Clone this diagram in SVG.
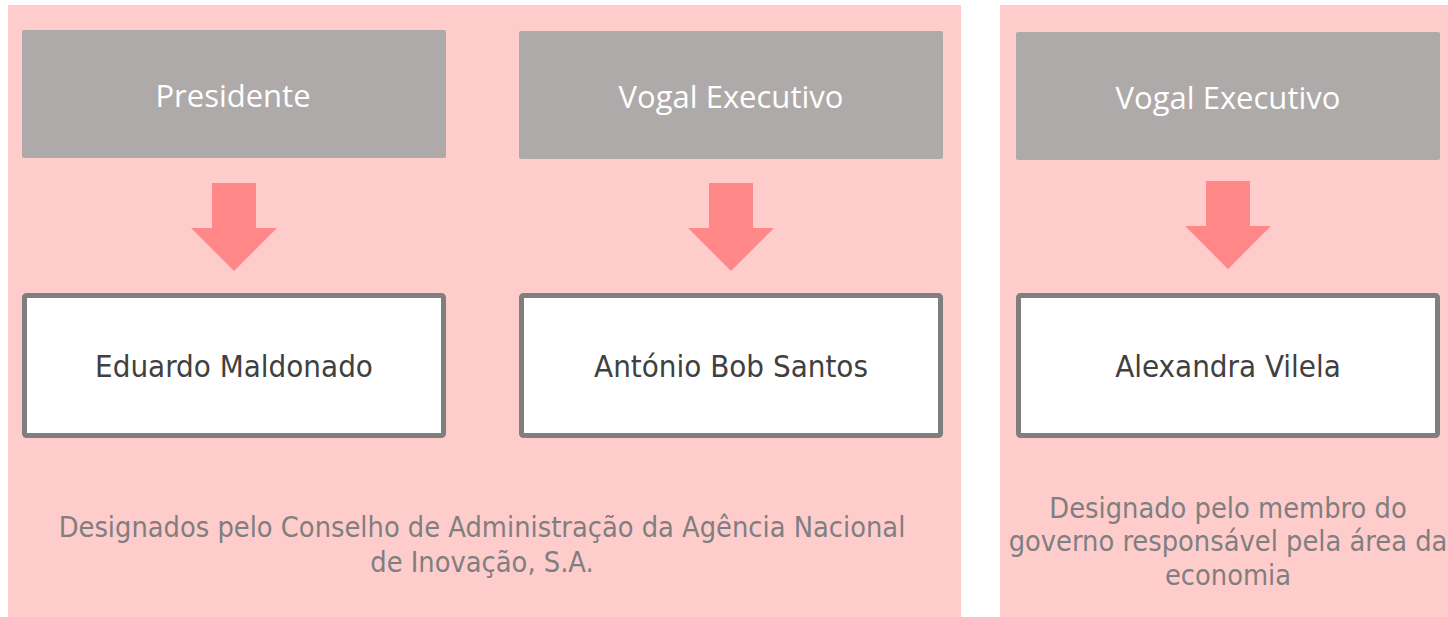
<svg xmlns="http://www.w3.org/2000/svg" width="1448" height="617" viewBox="0 0 1448 617">
  <style>
    .panel { fill: #ffcccc; }
    .role { fill: #aeaaa9; }
    .role-text { fill: #ffffff; font-family: "Open Sans", "Noto Sans", sans-serif; font-size: 31px; text-anchor: middle; }
    .name { fill: #ffffff; stroke: #7f7f7f; stroke-width: 5; }
    .name-text { fill: #404040; font-family: "DejaVu Sans Condensed", "DejaVu Sans", sans-serif; font-stretch: condensed; font-size: 31px; text-anchor: middle; }
    .note { fill: #7f7f7f; font-family: "DejaVu Sans Condensed", "DejaVu Sans", sans-serif; font-stretch: condensed; font-size: 28.7px; text-anchor: middle; }
    .arrow { fill: #ff8787; }
  </style>
  <defs>
    <path id="down-arrow" d="M -22 0 H 22 V 45 H 43 L 0 88 L -43 45 H -22 Z"/>
  </defs>

  <g id="panel-left">
    <rect class="panel" x="8" y="5" width="953" height="612"/>
  </g>
  <g id="panel-right">
    <rect class="panel" x="1000" y="5" width="448" height="612"/>
  </g>

  <g id="role-presidente">
    <rect class="role" x="22" y="30" width="424" height="128" rx="2"/>
    <text class="role-text" x="233" y="107">Presidente</text>
  </g>
  <g id="role-vogal-1">
    <rect class="role" x="519" y="31" width="424" height="128" rx="2"/>
    <text class="role-text" x="731" y="108">Vogal Executivo</text>
  </g>
  <g id="role-vogal-2">
    <rect class="role" x="1016" y="32" width="424" height="128" rx="2"/>
    <text class="role-text" x="1228" y="109">Vogal Executivo</text>
  </g>

  <g id="connectors">
    <use href="#down-arrow" class="arrow" x="234" y="183"/>
    <use href="#down-arrow" class="arrow" x="731" y="183"/>
    <use href="#down-arrow" class="arrow" x="1228" y="181"/>
  </g>

  <g id="name-maldonado">
    <rect class="name" x="24.5" y="295.5" width="419" height="140" rx="2"/>
    <text class="name-text" x="234" y="376.5">Eduardo Maldonado</text>
  </g>
  <g id="name-santos">
    <rect class="name" x="521.5" y="295.5" width="419" height="140" rx="2"/>
    <text class="name-text" x="731" y="376.5">António Bob Santos</text>
  </g>
  <g id="name-vilela">
    <rect class="name" x="1018.5" y="295.5" width="419" height="140" rx="2"/>
    <text class="name-text" x="1228" y="376.5">Alexandra Vilela</text>
  </g>

  <g id="note-left">
    <text class="note" x="482" y="537">Designados pelo Conselho de Administração da Agência Nacional</text>
    <text class="note" x="482" y="572">de Inovação, S.A.</text>
  </g>
  <g id="note-right">
    <text class="note" x="1228" y="517.5">Designado pelo membro do</text>
    <text class="note" x="1228" y="551">governo responsável pela área da</text>
    <text class="note" x="1228" y="585">economia</text>
  </g>
</svg>
